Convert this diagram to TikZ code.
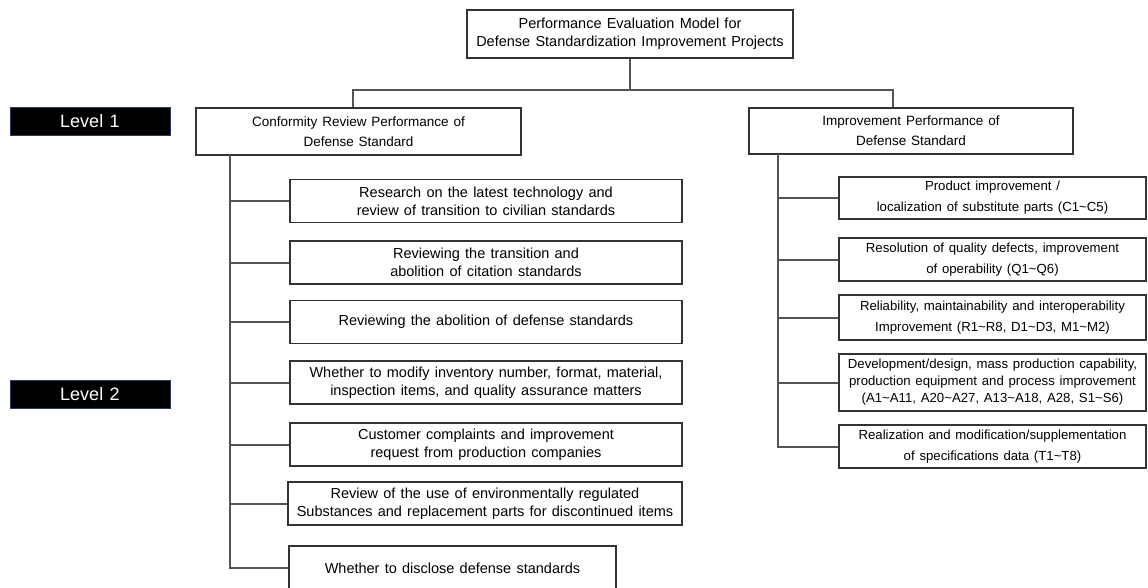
\documentclass[tikz,border=0pt]{standalone}
\usepackage{fontspec}
\setmainfont{Liberation Sans}[WordSpace=1.3]
\usetikzlibrary{positioning, calc}
\definecolor{lvledge}{RGB}{45,60,95}
\definecolor{wiregray}{RGB}{85,85,85}

\begin{document}
\begin{tikzpicture}[x=1pt, y=-1pt,
    box/.style={draw=black!80, line width=1.3pt, fill=white, align=center, inner sep=0pt, font=\fontsize{14.5}{18}\selectfont},
    rbox/.style={box, minimum width=307pt, font=\fontsize{13.2}{21}\selectfont},
    lbox/.style={box, minimum width=392pt, minimum height=43pt},
    lvl/.style={draw=lvledge, line width=1pt, fill=black, text=white, minimum width=160pt, minimum height=28pt, inner sep=0pt, font=\fontsize{18}{18}\selectfont},
    wire/.style={draw=wiregray, line width=2pt}]
    \useasboundingbox (0,0) rectangle (1148,587);

    % level tags
    \node[lvl] (lv1) at (90,121.5) {Level 1};
    \node[lvl] (lv2) at (90,394) {Level 2};

    % root and level 1
    \node[box, minimum width=326pt, minimum height=48pt] (top) at (630,34) {Performance Evaluation Model for\\Defense Standardization Improvement Projects};
    \node[box, minimum width=325pt, minimum height=47pt, font=\fontsize{13.5}{20}\selectfont] (conf) at (358.5,131.5) {Conformity Review Performance of\\Defense Standard};
    \node[box, minimum width=324pt, minimum height=46pt, font=\fontsize{13.5}{20}\selectfont] (imp) at (911,131) {Improvement Performance of\\Defense Standard};

    \draw[wire] (top.south) -- ++(0,31) coordinate (bus);
    \draw[wire] (bus) -| ([xshift=-6pt]conf.north);
    \draw[wire] (bus) -| ([xshift=-18pt]imp.north);

    % level 2, left
    \node[lbox] (l1) at (486,201) {Research on the latest technology and\\review of transition to civilian standards};
    \node[lbox] (l2) at (486,262.5) {Reviewing the transition and\\abolition of citation standards};
    \node[lbox] (l3) at (486,322) {Reviewing the abolition of defense standards};
    \node[lbox] (l4) at (486,382.5) {Whether to modify inventory number, format, material,\\inspection items, and quality assurance matters};
    \node[lbox] (l5) at (486,444.5) {Customer complaints and improvement\\request from production companies};
    \node[lbox, minimum width=394pt] (l6) at (485,503.5) {Review of the use of environmentally regulated\\Substances and replacement parts for discontinued items};
    \node[lbox, minimum width=327pt, minimum height=44pt] (l7) at (452.5,568) {Whether to disclose defense standards};

    \coordinate (ltop) at (230,155);
    \draw[wire] (ltop) |- (l7.west);
    \draw[wire] (ltop |- l1.west) -- (l1.west);
    \draw[wire] (ltop |- l2.west) -- (l2.west);
    \draw[wire] (ltop |- l3.west) -- (l3.west);
    \draw[wire] (ltop |- l4.west) -- (l4.west);
    \draw[wire] (ltop |- l5.west) -- (l5.west);
    \draw[wire] (ltop |- l6.west) -- (l6.west);

    % level 2, right
    \node[rbox, minimum height=42pt] (r1) at (992.5,198) {Product improvement /\\localization of substitute parts (C1\textasciitilde C5)};
    \node[rbox, minimum height=43pt] (r2) at (992.5,259.5) {Resolution of quality defects, improvement\\of operability (Q1\textasciitilde Q6)};
    \node[rbox, minimum height=45pt] (r3) at (992.5,317.5) {Reliability, maintainability and interoperability\\Improvement (R1\textasciitilde R8, D1\textasciitilde D3, M1\textasciitilde M2)};
    \node[rbox, minimum height=57pt, font=\fontsize{13.2}{17}\selectfont] (r4) at (992.5,382.5) {Development/design, mass production capability,\\production equipment and process improvement\\(A1\textasciitilde A11, A20\textasciitilde A27, A13\textasciitilde A18, A28, S1\textasciitilde S6)};
    \node[rbox, minimum height=43pt] (r5) at (992.5,446.5) {Realization and modification/supplementation\\of specifications data (T1\textasciitilde T8)};

    \coordinate (rtop) at (778,154);
    \draw[wire] (rtop) |- (r5.west);
    \draw[wire] (rtop |- r1.west) -- (r1.west);
    \draw[wire] (rtop |- r2.west) -- (r2.west);
    \draw[wire] (rtop |- r3.west) -- (r3.west);
    \draw[wire] (rtop |- r4.west) -- (r4.west);
\end{tikzpicture}
\end{document}
